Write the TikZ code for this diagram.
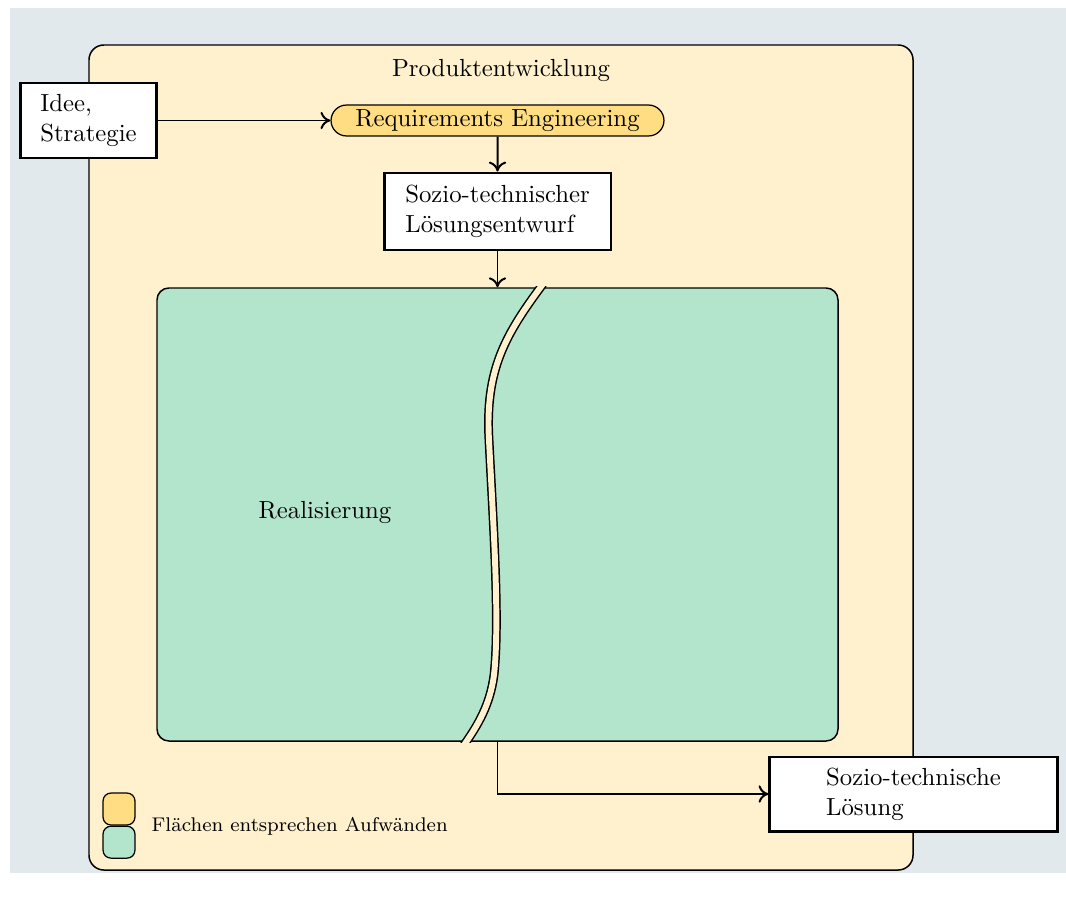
\documentclass[tikz,border=0pt]{standalone}
\usepackage{tikz}
\usetikzlibrary{arrows.meta,positioning,calc,fit,shapes.misc}
\definecolor{PageBlue}{HTML}{E1E9ED}
\definecolor{FrameCream}{HTML}{FFF1CE}
\definecolor{ReqGold}{HTML}{FFDD82}
\definecolor{RealMint}{HTML}{B3E5CD}
\tikzset{
  textbox/.style={draw,line width=1.2pt,fill=white,align=left,inner sep=0pt},
  flow/.style={line width=0.8pt,-{To[length=4pt,width=7pt]}},
  legendbox/.style={draw,line width=0.5pt,rounded corners=3.2pt,minimum size=12.9pt,inner sep=0pt}
}
\begin{document}
\begin{tikzpicture}[x=0.404pt,y=-0.404pt]
  \useasboundingbox (0,0) rectangle (1066,901);
  \fill[PageBlue] (10,8) rectangle (1066,873);
  % Rahmen
  \node[draw,line width=0.6pt,rounded corners=6pt,fill=FrameCream,inner sep=0pt,fit={(89,45) (913,870)}] (pe){};
  \node at (501,70) (title){Produktentwicklung};
  \node[textbox,minimum width=55.3pt,minimum height=30.3pt] at (88.5,120.5) (idee){Idee,\\Strategie};
  \node[draw,line width=0.5pt,rounded rectangle,fill=ReqGold,minimum width=134.5pt,minimum height=12.5pt,inner sep=0pt] at (497.5,120.5) (req){Requirements Engineering};
  \node[textbox,minimum width=91.7pt,minimum height=31.1pt] at (497.5,211.5) (entwurf){Sozio-technischer\\Lösungsentwurf};
  \node[draw,line width=0.6pt,rounded corners=4.8pt,fill=RealMint,inner sep=0pt,fit={(157,288) (838,741)}] (real){};
  % Spalt
  \begin{scope}
    \clip (157,286.5) rectangle (838,742.5);
    \draw[line width=3.6pt] (543,284) .. controls (505,335) and (485,370) .. (489,440) .. controls (493,520) and (500,620) .. (494,675) .. controls (490,705) and (478,725) .. (464,745);
    \draw[line width=2.4pt,FrameCream] (543,284) .. controls (505,335) and (485,370) .. (489,440) .. controls (493,520) and (500,620) .. (494,675) .. controls (490,705) and (478,725) .. (464,745);
  \end{scope}
  \node at (325,512) (reallabel){Realisierung};
  \node[textbox,minimum width=116pt,minimum height=29.9pt] at (913.5,794) (loesung){Sozio-technische\\Lösung};
  \draw[flow] (idee) -- (req);
  \draw[flow] (req) -- (entwurf);
  \draw[flow] (entwurf) -- (real);
  \draw[flow] (real.south) |- (loesung.west);
  % Legende
  \node[legendbox,fill=ReqGold] at (119,809) (legA){};
  \node[legendbox,fill=RealMint,below=0pt of legA] (legB){};
  \node[anchor=west,font=\footnotesize] at (143,826) (legtext){Flächen entsprechen Aufwänden};
\end{tikzpicture}
\end{document}
